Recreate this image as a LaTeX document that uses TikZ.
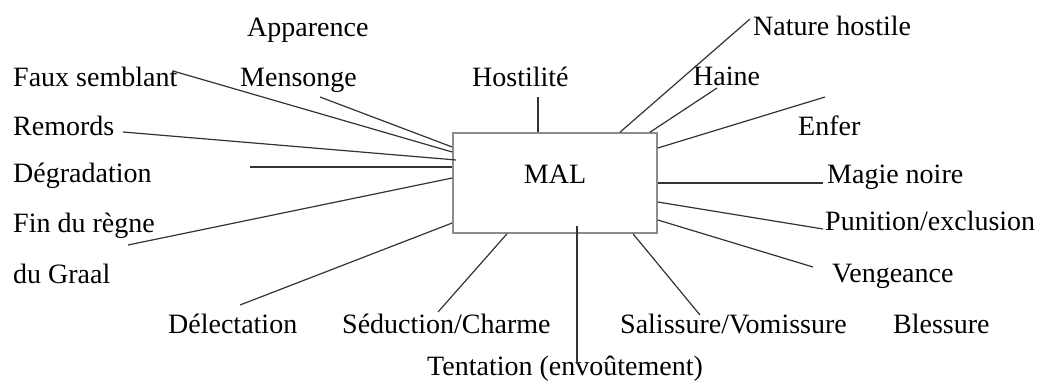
\documentclass[tikz,border=0pt]{standalone}
\usepackage{fontspec}
\setmainfont{Liberation Serif}
\begin{document}
\begin{tikzpicture}[x=1pt,y=-1pt,
  lbl/.style={anchor=base west, inner sep=0pt, font=\fontsize{28}{30}\selectfont},
  centre/.style={draw=black!45, line width=1.6pt, minimum width=204pt, minimum height=100pt,
    inner sep=0pt, text depth=18pt, font=\fontsize{28}{30}\selectfont},
  spoke/.style={draw=black!80, line width=1.2pt}]
\useasboundingbox (0,0) rectangle (1047,383);

% central box
\node[centre] (mal) at (555,183) {MAL};

% labels, left side
\node[lbl] (app)  at (247,36)  {Apparence};
\node[lbl] (faux) at (13,86)   {Faux semblant};
\node[lbl] (mens) at (240,86)  {Mensonge};
\node[lbl] (host) at (472,86)  {Hostilité};
\node[lbl] (rem)  at (13,135)  {Remords};
\node[lbl] (deg)  at (13,182)  {Dégradation};
\node[lbl] (fin)  at (13,232)  {Fin du règne};
\node[lbl] (graal) at (13,283) {du Graal};

% labels, right side
\node[lbl] (nat)  at (753,35)  {Nature hostile};
\node[lbl] (haine) at (693,85) {Haine};
\node[lbl] (enf)  at (798,135) {Enfer};
\node[lbl] (mag)  at (827,183) {Magie noire};
\node[lbl] (pun)  at (825,230) {Punition/exclusion};
\node[lbl] (veng) at (832,282) {Vengeance};

% labels, bottom
\node[lbl] (del)  at (168,333) {Délectation};
\node[lbl] (sed)  at (342,333) {Séduction/Charme};
\node[lbl] (sal)  at (620,333) {Salissure/Vomissure};
\node[lbl] (bles) at (893,333) {Blessure};
\node[lbl] (tent) at (427,375) {Tentation (envoûtement)};

% free ends of the spokes, beside their words
\coordinate (faux-e) at (173,71);
\coordinate (mens-e) at (320,97);
\coordinate (rem-e)  at (123,132);
\coordinate (deg-e)  at (250,167);
\coordinate (fin-e)  at (128,245);
\coordinate (del-e)  at (240,305);
\coordinate (sed-e)  at (438,312);
\coordinate (tent-e) at (577,364);
\coordinate (sal-e)  at (700,315);
\coordinate (veng-e) at (813,267);
\coordinate (pun-e)  at (823,229);
\coordinate (mag-e)  at (823,183);
\coordinate (enf-e)  at (825,97);
\coordinate (haine-e) at (717,88);
\coordinate (nat-e)  at (750,19);
\coordinate (host-e) at (538,97);

% spokes
\draw[spoke] (faux-e) -- (mal.west |- 0,152);
\draw[spoke] (mens-e) -- (mal.west |- 0,147);
\draw[spoke] (rem-e)  -- ([xshift=4pt]mal.west |- 0,160);
\draw[spoke] (deg-e)  -- (mal.west |- 0,167);
\draw[spoke] (fin-e)  -- (mal.west |- 0,178);
\draw[spoke] (del-e)  -- (mal.west |- 0,223);
\draw[spoke] (sed-e)  -- (mal.south -| 507,0);
\draw[spoke] (tent-e) -- ([yshift=8pt]mal.south -| 577,0);
\draw[spoke] (sal-e)  -- (mal.south -| 633,0);
\draw[spoke] (veng-e) -- (mal.east |- 0,220);
\draw[spoke] (pun-e)  -- (mal.east |- 0,202);
\draw[spoke] (mag-e)  -- (mal.east |- 0,183);
\draw[spoke] (enf-e)  -- (mal.east |- 0,148);
\draw[spoke] (haine-e) -- (mal.north -| 650,0);
\draw[spoke] (nat-e)  -- (mal.north -| 620,0);
\draw[spoke] (host-e) -- (mal.north -| 538,0);
\end{tikzpicture}
\end{document}
